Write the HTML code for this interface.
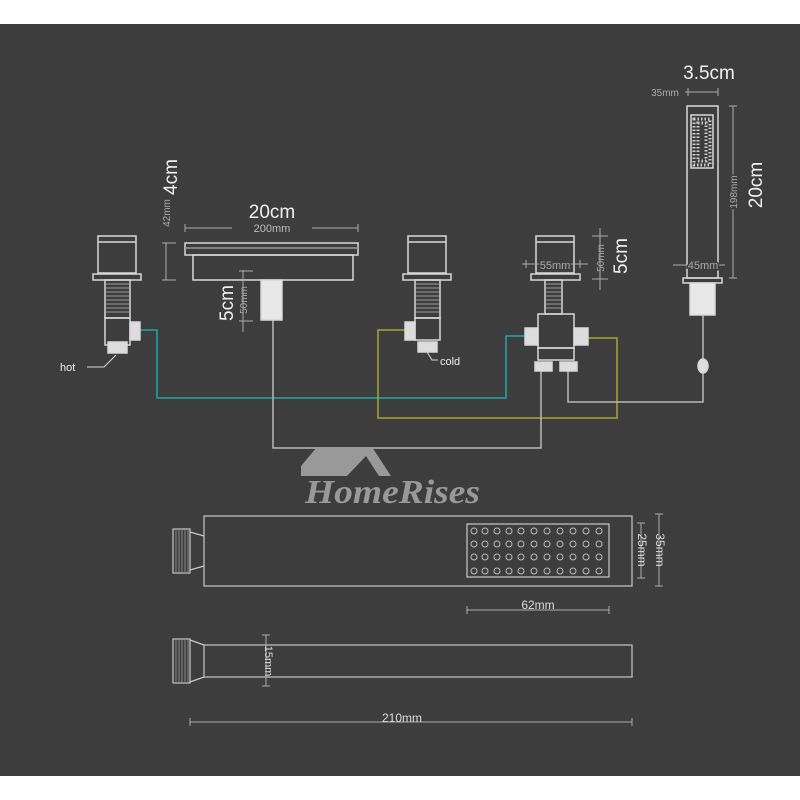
<!DOCTYPE html>
<html><head><meta charset="utf-8"><style>
html,body{margin:0;padding:0;background:#fff}
svg{display:block}
text{font-family:"Liberation Sans",sans-serif}
</style></head><body>
<svg width="800" height="800" viewBox="0 0 800 800" xmlns="http://www.w3.org/2000/svg">
<rect x="0" y="0" width="800" height="800" fill="#fff"/>
<rect x="0" y="24" width="800" height="752" fill="#3d3d3d"/>

<g fill="none" stroke-width="1.5">
<polyline points="140,330 157,330 157,398 506,398 506,336 525,336" stroke="#1fa6a8"/>
<polyline points="405,330 378,330 378,418 617,418 617,338 588,338" stroke="#a6a632"/>
<polyline points="273,320 273,448 541,448 541,370" stroke="#b8b8b8"/>
<polyline points="568,370 568,402 703,402 703,315" stroke="#b8b8b8"/>
</g>

<g stroke="#d8d8d8" stroke-width="1.5" fill="none">
<rect x="98" y="236" width="38" height="37"/>
<line x1="98" y1="242" x2="136" y2="242"/>
<rect x="93" y="274" width="48" height="6"/>
<rect x="105" y="280" width="25" height="38"/>
<rect x="105" y="318" width="25" height="27"/>
<rect x="130" y="322" width="10" height="18" fill="#ddd"/>
<rect x="108" y="342" width="19" height="11" fill="#ddd"/>
<polyline points="87,367 104,367 116,355" stroke-width="1"/>

<rect x="185" y="243" width="173" height="12"/>
<line x1="185" y1="248" x2="358" y2="248" stroke="#999"/>
<rect x="193" y="255" width="160" height="25"/>
<rect x="261" y="280" width="21" height="40" fill="#e8e8e8"/>

<rect x="408" y="236" width="38" height="37"/>
<line x1="408" y1="242" x2="446" y2="242"/>
<rect x="403" y="274" width="48" height="6"/>
<rect x="415" y="280" width="25" height="38"/>
<rect x="415" y="318" width="25" height="22"/>
<rect x="405" y="322" width="10" height="18" fill="#ddd"/>
<rect x="418" y="342" width="19" height="10" fill="#ddd"/>
<polyline points="427,352 432,360 438,360" stroke-width="1"/>

<rect x="536" y="236" width="38" height="37"/>
<line x1="536" y1="242" x2="574" y2="242"/>
<rect x="531" y="274" width="49" height="6"/>
<rect x="545" y="280" width="17" height="34"/>
<rect x="538" y="314" width="36" height="34"/>
<rect x="525" y="328" width="13" height="17" fill="#ddd"/>
<rect x="574" y="328" width="14" height="17" fill="#ddd"/>
<rect x="538" y="348" width="36" height="12"/>
<rect x="535" y="362" width="17" height="9" fill="#ddd"/>
<rect x="560" y="362" width="17" height="9" fill="#ddd"/>

<rect x="687" y="106" width="31" height="172"/>
<rect x="691" y="115" width="22" height="53"/>
<rect x="683" y="278" width="39" height="5"/>
<rect x="690" y="283" width="25" height="32" fill="#e8e8e8"/>
<ellipse cx="703" cy="366" rx="5" ry="7" fill="#ddd"/>
</g>
<g stroke="#bbb" stroke-width="0.8">
<path d="M106 284H129M106 288H129M106 292H129M106 296H129M106 300H129M106 304H129M106 308H129M106 312H129"/>
<path d="M416 284H439M416 288H439M416 292H439M416 296H439M416 300H439M416 304H439M416 308H439M416 312H439"/>
<path d="M546 284H561M546 288H561M546 292H561M546 296H561M546 300H561M546 304H561M546 308H561"/>
</g>
<rect x="694" y="119" width="16" height="46" fill="none" stroke="#ccc" stroke-dasharray="1.5 2" stroke-width="3"/>
<rect x="698" y="123" width="8" height="38" fill="none" stroke="#ccc" stroke-dasharray="1.5 2" stroke-width="3"/>

<g stroke="#aaa" stroke-width="1" fill="none">
<line x1="185" y1="228" x2="232" y2="228"/><line x1="312" y1="228" x2="358" y2="228"/>
<line x1="185" y1="224" x2="185" y2="232"/><line x1="358" y1="224" x2="358" y2="232"/>
<line x1="166" y1="243" x2="166" y2="280"/><line x1="162" y1="243" x2="176" y2="243"/><line x1="162" y1="280" x2="176" y2="280"/>
<line x1="243" y1="270" x2="243" y2="332"/><line x1="239" y1="271" x2="253" y2="271"/><line x1="239" y1="321" x2="253" y2="321"/>
<line x1="522" y1="264" x2="588" y2="264"/><line x1="526" y1="260" x2="526" y2="268"/><line x1="580" y1="260" x2="580" y2="268"/>
<line x1="600" y1="228" x2="600" y2="290"/><line x1="592" y1="236" x2="608" y2="236"/><line x1="592" y1="279" x2="608" y2="279"/>
<line x1="685" y1="92" x2="718" y2="92"/><line x1="688" y1="88" x2="688" y2="96"/><line x1="718" y1="88" x2="718" y2="96"/>
<line x1="733" y1="106" x2="733" y2="278"/><line x1="729" y1="106" x2="737" y2="106"/><line x1="729" y1="278" x2="737" y2="278"/>
<line x1="673" y1="265" x2="725" y2="265"/>
</g>

<g fill="#f0f0f0">
<text x="272" y="218" font-size="19" text-anchor="middle">20cm</text>
<text x="709" y="79" font-size="19" text-anchor="middle">3.5cm</text>
<text transform="translate(177,177) rotate(-90)" font-size="19" text-anchor="middle">4cm</text>
<text transform="translate(233,303) rotate(-90)" font-size="19" text-anchor="middle">5cm</text>
<text transform="translate(627,256) rotate(-90)" font-size="19" text-anchor="middle">5cm</text>
<text transform="translate(762,185) rotate(-90)" font-size="19" text-anchor="middle">20cm</text>
</g>
<g fill="#aaa" font-size="10">
<text x="272" y="232" text-anchor="middle" font-size="11" fill="#bbb" stroke="#3d3d3d" stroke-width="4" paint-order="stroke">200mm</text>
<text transform="translate(170,213) rotate(-90)" text-anchor="middle">42mm</text>
<text transform="translate(247,300) rotate(-90)" text-anchor="middle">50mm</text>
<text x="555" y="269" text-anchor="middle" font-size="11" stroke="#3d3d3d" stroke-width="3" paint-order="stroke">55mm</text>
<text transform="translate(604,258) rotate(-90)" text-anchor="middle">50mm</text>
<text x="665" y="96" text-anchor="middle">35mm</text>
<text transform="translate(737,192) rotate(-90)" text-anchor="middle" stroke="#3d3d3d" stroke-width="3" paint-order="stroke">198mm</text>
<text x="703" y="269" text-anchor="middle" font-size="11" stroke="#3d3d3d" stroke-width="3" paint-order="stroke">45mm</text>
</g>
<text x="60" y="371" font-size="11" fill="#eee">hot</text>
<text x="440" y="365" font-size="11" fill="#eee">cold</text>

<polygon points="301,476 301,466 317,447 372,447 391,476 379,476 366,456 347,476" fill="#999"/>
<text x="305" y="503" textLength="175" lengthAdjust="spacingAndGlyphs" style="font-family:'Liberation Serif',serif;font-style:italic;font-weight:bold;font-size:34px" fill="#999">HomeRises</text>

<g stroke="#c8c8c8" stroke-width="1.2" fill="none">
<rect x="204" y="516" width="428" height="70"/>
<rect x="467" y="524" width="142" height="53"/>
<rect x="173" y="529" width="17" height="44"/>
<polyline points="190,532 204,536"/><polyline points="190,570 204,566"/>
<rect x="204" y="645" width="428" height="32"/>
<rect x="173" y="639" width="17" height="44"/>
<polyline points="190,640 204,645"/><polyline points="190,682 204,677"/>
</g>
<g stroke="#999" stroke-width="0.8">
<path d="M176 530V572M179 530V572M182 530V572M185 530V572M188 530V572"/>
<path d="M176 640V682M179 640V682M182 640V682M185 640V682M188 640V682"/>
</g>
<g fill="none" stroke="#bbb" stroke-width="1">
<g id="row">
<circle cx="474" cy="531" r="3"/><circle cx="485" cy="531" r="3"/><circle cx="497" cy="531" r="3"/><circle cx="509" cy="531" r="3"/><circle cx="521" cy="531" r="3"/><circle cx="534" cy="531" r="3"/><circle cx="547" cy="531" r="3"/><circle cx="560" cy="531" r="3"/><circle cx="573" cy="531" r="3"/><circle cx="586" cy="531" r="3"/><circle cx="599" cy="531" r="3"/>
</g>
<use href="#row" y="13"/><use href="#row" y="26"/><use href="#row" y="40"/>
</g>
<g stroke="#aaa" stroke-width="1" fill="none">
<line x1="641" y1="523" x2="641" y2="578"/><line x1="637" y1="523" x2="645" y2="523"/><line x1="637" y1="578" x2="645" y2="578"/>
<line x1="659" y1="514" x2="659" y2="586"/><line x1="655" y1="514" x2="663" y2="514"/><line x1="655" y1="586" x2="663" y2="586"/>
<line x1="467" y1="610" x2="609" y2="610"/><line x1="467" y1="606" x2="467" y2="614"/><line x1="609" y1="606" x2="609" y2="614"/>
<line x1="266" y1="635" x2="266" y2="686"/><line x1="262" y1="635" x2="270" y2="635"/><line x1="262" y1="686" x2="270" y2="686"/>
<line x1="190" y1="722" x2="632" y2="722"/><line x1="190" y1="718" x2="190" y2="726"/><line x1="632" y1="718" x2="632" y2="726"/>
</g>
<g fill="#ddd" font-size="12">
<text transform="translate(638,550) rotate(90)" text-anchor="middle">25mm</text>
<text transform="translate(656,550) rotate(90)" text-anchor="middle">35mm</text>
<text x="538" y="609" text-anchor="middle">62mm</text>
<text transform="translate(265,661) rotate(90)" text-anchor="middle" font-size="11">15mm</text>
<text x="402" y="722" text-anchor="middle">210mm</text>
</g>
</svg>
</body></html>
